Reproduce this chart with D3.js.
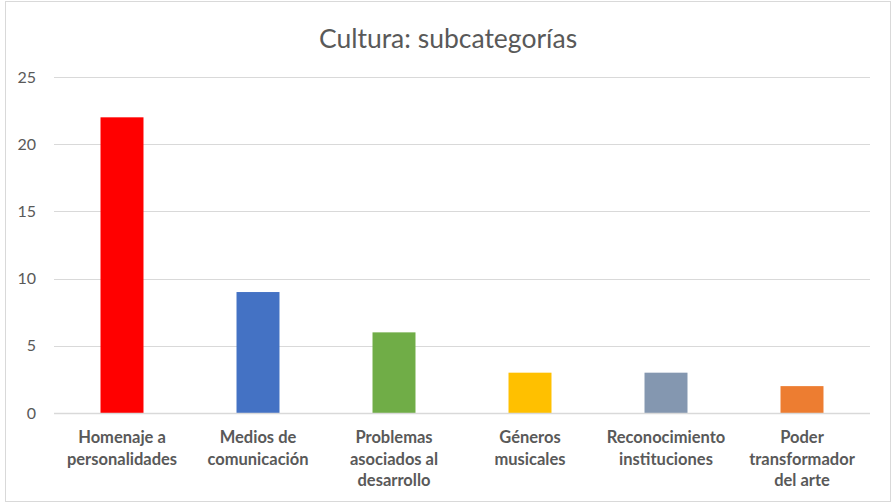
<!DOCTYPE html>
<html>
<head>
<meta charset="utf-8">
<script src="https://cdn.jsdelivr.net/npm/d3@7"></script>
<style>
  html, body { margin: 0; padding: 0; background: #fff; }
  svg { display: block; }
</style>
</head>
<body>
<svg id="chart" width="892" height="504"></svg>
<script>
// Categorías y valores
const categories = [
  "Homenaje a personalidades",
  "Medios de comunicación",
  "Problemas asociados al desarrollo",
  "Géneros musicales",
  "Reconocimiento instituciones",
  "Poder transformador del arte"
];
const labelLines = [
  ["Homenaje a", "personalidades"],
  ["Medios de", "comunicación"],
  ["Problemas", "asociados al", "desarrollo"],
  ["Géneros", "musicales"],
  ["Reconocimiento", "instituciones"],
  ["Poder", "transformador", "del arte"]
];
const values = [22, 9, 6, 3, 3, 2];
const barColors = ["#FF0000", "#4472C4", "#70AD47", "#FFC000", "#8497B0", "#ED7D31"];
const yTicks = [0, 5, 10, 15, 20, 25];
const title = "Cultura: subcategorías";

const svg = d3.select("#chart");
const W = 892, H = 504;
const font = "Lato, 'Open Sans', sans-serif";

// Marco del gráfico
svg.append("rect")
  .attr("x", 5.5).attr("y", 1.5)
  .attr("width", W - 7).attr("height", H - 4)
  .attr("fill", "#fff").attr("stroke", "#d9d9d9").attr("stroke-width", 1);

const plot = { left: 54, right: 870, top: 77, bottom: 413 };

const x = d3.scaleBand()
  .domain(categories)
  .range([plot.left, plot.right])
  .paddingInner(0.684)
  .paddingOuter(0.342);

const y = d3.scaleLinear()
  .domain([0, 25])
  .range([plot.bottom, plot.top]);

// Líneas de cuadrícula y eje Y
const yAxis = d3.axisLeft(y)
  .tickValues(yTicks)
  .tickSize(-(plot.right - plot.left))
  .tickPadding(18)
  .tickFormat(d3.format("d"));

const gy = svg.append("g")
  .attr("transform", `translate(${plot.left},0)`)
  .call(yAxis);
gy.select(".domain").remove();
gy.selectAll(".tick line")
  .attr("stroke", "#d9d9d9").attr("stroke-width", 1)
  .attr("shape-rendering", "crispEdges");
gy.selectAll(".tick text")
  .attr("fill", "#595959")
  .style("font-family", font)
  .style("font-size", "16px");

// Barras
svg.append("g")
  .selectAll("rect")
  .data(categories)
  .join("rect")
  .attr("x", d => x(d))
  .attr("y", (d, i) => y(values[i]))
  .attr("width", x.bandwidth())
  .attr("height", (d, i) => y(0) - y(values[i]))
  .attr("fill", (d, i) => barColors[i]);

// Eje X (línea base)
svg.append("line")
  .attr("x1", plot.left).attr("x2", plot.right)
  .attr("y1", y(0) + 0.5).attr("y2", y(0) + 0.5)
  .attr("stroke", "#d9d9d9").attr("stroke-width", 1.5);

// Etiquetas de categoría
const xl = svg.append("g")
  .selectAll("text")
  .data(categories)
  .join("text")
  .attr("text-anchor", "middle")
  .attr("fill", "#595959")
  .style("font-family", font)
  .style("font-size", "16.5px")
  .style("font-weight", "bold");
xl.each(function(d, i) {
  const t = d3.select(this);
  labelLines[i].forEach((line, j) => {
    t.append("tspan")
      .attr("x", x(d) + x.bandwidth() / 2)
      .attr("y", 443 + j * 21.5)
      .text(line);
  });
});

// Título
svg.append("text")
  .attr("x", 448).attr("y", 48)
  .attr("text-anchor", "middle")
  .attr("fill", "#595959")
  .style("font-family", font)
  .style("font-size", "26.5px")
  .text(title);
</script>
</body>
</html>
